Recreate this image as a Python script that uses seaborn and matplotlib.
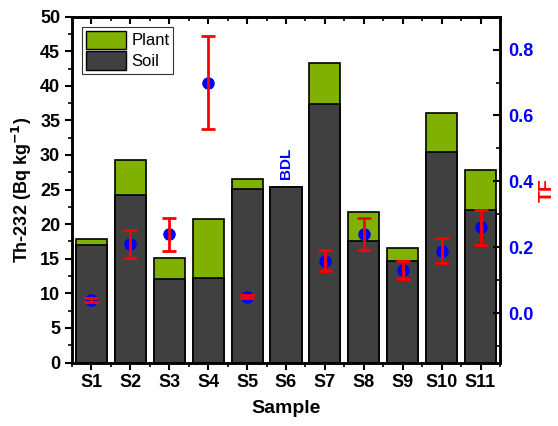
import matplotlib
matplotlib.use("Agg")
import matplotlib.pyplot as plt
import numpy as np
import pandas as pd
import seaborn as sns
from matplotlib.ticker import MultipleLocator
from matplotlib.patches import Patch

sns.set_theme(style="ticks")
plt.rcParams["font.family"] = ["Liberation Sans", "DejaVu Sans"]
plt.rcParams["font.weight"] = "bold"
plt.rcParams.update({"text.color": "black", "axes.labelcolor": "black",
                     "xtick.color": "black", "ytick.color": "black",
                     "axes.edgecolor": "black"})

samples = ["S1", "S2", "S3", "S4", "S5", "S6", "S7", "S8", "S9", "S10", "S11"]
soil = [17.0, 24.2, 12.1, 12.2, 25.1, 25.4, 37.4, 17.6, 14.7, 30.4, 22.0]
plant = [0.8, 5.1, 3.0, 8.6, 1.4, 0.0, 5.9, 4.2, 1.8, 5.7, 5.8]
tf = [0.040, 0.210, 0.240, 0.700, 0.050, np.nan, 0.159, 0.240, 0.130, 0.190, 0.260]
tf_err = [0.005, 0.042, 0.050, 0.140, 0.005, np.nan, 0.032, 0.048, 0.027, 0.038, 0.052]

soil_color = "#404040"
plant_color = "#80B000"

df = pd.DataFrame({"Sample": samples, "Soil": soil, "Plant": plant})
df["Total"] = df["Soil"] + df["Plant"]

fig, ax = plt.subplots(figsize=(5.58, 4.26), dpi=100)
fig.subplots_adjust(left=0.129, right=0.896, top=0.961, bottom=0.149)

sns.barplot(data=df, x="Sample", y="Total", color=plant_color, saturation=1,
            edgecolor="black", linewidth=1.2, width=0.8, ax=ax)
sns.barplot(data=df, x="Sample", y="Soil", color=soil_color, saturation=1,
            edgecolor="black", linewidth=1.2, width=0.8, ax=ax)

ax.set_xlim(-0.5, 10.5)
ax.set_ylim(0, 50)
ax.yaxis.set_major_locator(MultipleLocator(5))
ax.yaxis.set_minor_locator(MultipleLocator(2.5))
ax.xaxis.set_minor_locator(MultipleLocator(0.5))
ax.tick_params(axis="both", which="major", labelsize=13, width=1.5, length=5, direction="out")
ax.tick_params(axis="both", which="minor", width=1.2, length=3, direction="out")
for lab in ax.get_xticklabels() + ax.get_yticklabels():
    lab.set_fontweight("bold")
ax.set_xlabel("Sample", fontsize=14, fontweight="bold", labelpad=6)
ax.set_ylabel("Th-232 (Bq kg$^{\\mathbf{-1}}$)", fontsize=13, fontweight="bold", labelpad=4)
for sp in ax.spines.values():
    sp.set_linewidth(1.8)
    sp.set_color("black")

# top ticks pointing inward
sec = ax.secondary_xaxis("top")
sec.set_xticks(range(len(samples)))
sec.xaxis.set_minor_locator(MultipleLocator(0.5))
sec.tick_params(which="major", direction="in", length=5, width=1.5, labeltop=False)
sec.tick_params(which="minor", direction="in", length=3, width=1.2)
sec.spines["top"].set_linewidth(1.8)

ax.text(5, 26.5, "BDL", rotation=90, ha="center", va="bottom", color="blue",
        fontsize=11, fontweight="bold")

handles = [Patch(facecolor=plant_color, edgecolor="black", label="Plant"),
           Patch(facecolor=soil_color, edgecolor="black", label="Soil")]
leg = ax.legend(handles=handles, loc="upper left", frameon=True,
                fancybox=False, edgecolor="black", handlelength=2.4, handleheight=1.3,
                borderaxespad=0.6, handletextpad=0.3, borderpad=0.25, labelspacing=0.15,
                prop={"weight": "normal", "size": 12})
leg.get_frame().set_linewidth(0.8)

ax2 = ax.twinx()
x = np.arange(len(samples))
ax2.plot(x, tf, "o", color="blue", markersize=8, zorder=4)
ax2.errorbar(x, tf, yerr=tf_err, fmt="none", ecolor="red", elinewidth=2,
             capsize=5, capthick=2, zorder=5)
ax2.set_ylim(-0.15, 0.9)
ax2.yaxis.set_minor_locator(MultipleLocator(0.1))
ax2.set_yticks([0.0, 0.2, 0.4, 0.6, 0.8])
ax2.tick_params(axis="y", which="major", direction="in", length=5, width=1.5,
                labelsize=13, labelcolor="blue", pad=6)
ax2.tick_params(axis="y", which="minor", direction="in", length=3, width=1.2)
for lab in ax2.get_yticklabels():
    lab.set_fontweight("bold")
ax2.set_ylabel("TF", fontsize=14, fontweight="bold", color="red", labelpad=4)
for sp in ax2.spines.values():
    sp.set_linewidth(1.8)
    sp.set_color("black")

fig.savefig("out.png", dpi=100)
